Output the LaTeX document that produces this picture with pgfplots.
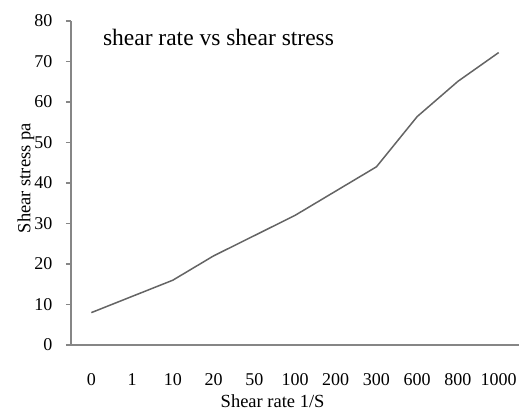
\documentclass[border=0pt]{standalone}
\usepackage{pgfplots}
\pgfplotsset{compat=1.18}
\usepackage{fontspec}
\setmainfont{Liberation Serif}
\definecolor{axgray}{RGB}{134,134,134}
\definecolor{linegray}{RGB}{100,100,100}
\begin{document}
\begin{tikzpicture}
\begin{axis}[
  at={(0,0)}, anchor=south west,
  scale only axis,
  width=448pt, height=324pt,
  xmin=-0.5, xmax=10.5,
  ymin=0, ymax=80,
  ytick={0,10,...,80},
  xtick={0,...,10},
  xticklabels={0,1,10,20,50,100,200,300,600,800,1000},
  axis lines*=left,
  axis line style={axgray, line width=1.3pt},
  tick align=outside,
  ytick style={axgray, line width=1.3pt},
  major tick length=5pt,
  xtick style={draw=none},
  ticklabel style={font=\fontsize{18}{20}\selectfont},
  /pgf/number format/assume math mode=true,
  xticklabel style={yshift=-20pt},
  yticklabel style={xshift=-10pt},
  xlabel={Shear rate 1/S},
  ylabel={Shear stress pa},
  label style={font=\fontsize{18.5}{20}\selectfont},
  xlabel style={at={(rel axis cs:0.45,0)}, anchor=north, yshift=-46pt},
  ylabel style={at={(rel axis cs:0,0.515)}, anchor=center, yshift=45pt},
  clip=false,
]
\addplot[linegray, line width=1.5pt] coordinates {
  (0,8) (1,12) (2,16) (3,22) (4,27) (5,32) (6,38) (7,44) (8,56.4) (9,65.1) (10,72.2)
};
\node[anchor=base west, font=\fontsize{23.5}{26}\selectfont, inner sep=0pt]
  at (rel axis cs:0.071,0.925) {shear rate vs shear stress};
\end{axis}
\pgfresetboundingbox
\path[use as bounding box] (-71pt,-67pt) rectangle (450pt,345pt);
\end{tikzpicture}
\end{document}
